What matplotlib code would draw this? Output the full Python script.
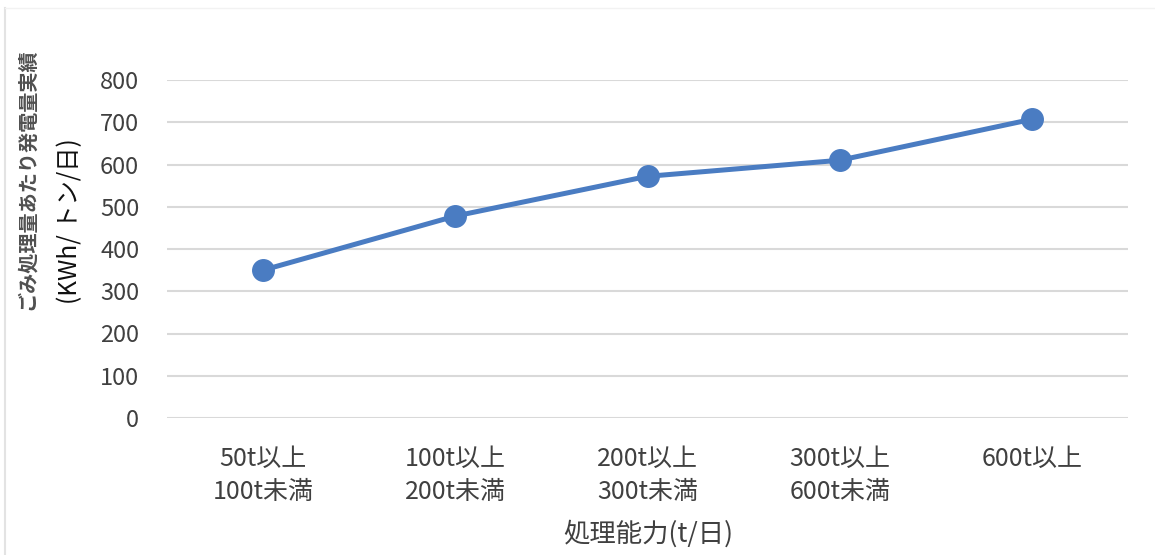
import matplotlib
matplotlib.use("Agg")
import matplotlib.pyplot as plt
from matplotlib.lines import Line2D

plt.rcParams['font.family'] = ['Noto Sans CJK JP', 'DejaVu Sans']

categories = ["50t以上\n100t未満", "100t以上\n200t未満", "200t以上\n300t未満",
              "300t以上\n600t未満", "600t以上"]
values = [350, 478, 572, 610, 707]
yticks = [0, 100, 200, 300, 400, 500, 600, 700, 800]

W, H = 1155, 555
fig = plt.figure(figsize=(W / 100, H / 100), dpi=100)
ax = fig.add_axes([167 / W, 1 - 418 / H, (1128 - 167) / W, (418 - 80) / H])

x = list(range(len(categories)))
ax.plot(x, values, color="#4A7CC2", lw=3.6, marker="o", ms=15.5,
        solid_capstyle="round", zorder=3)

ax.set_xlim(-0.5, len(categories) - 0.5)
ax.set_ylim(0, 800)
ax.set_yticks(yticks)
ax.grid(axis="y", color="#D9D9D9", lw=1.5)
ax.set_axisbelow(True)
for s in ax.spines.values():
    s.set_visible(False)
ax.set_xticks(x)
ax.set_xticklabels(categories, linespacing=1.35)
ax.tick_params(axis="y", length=0, labelsize=17, labelcolor="#404040", pad=20)
ax.tick_params(axis="x", length=0, labelsize=18, labelcolor="#404040", pad=20)

fig.text(648 / W, 1 - 534 / H, "処理能力(t/日)", ha="center", va="center",
         fontsize=19, color="#404040")
fig.text(26 / W, 1 - 310 / H, "ごみ処理量あたり発電量実績", rotation=90,
         ha="center", va="bottom", fontsize=14.5, fontweight="bold", color="#505050")
fig.text(70 / W, 1 - 304 / H, "(KWh/ トン/日)", rotation=90,
         ha="center", va="bottom", fontsize=17.5, color="#101010")

# faint frame of the chart area
fig.add_artist(Line2D([5 / W, 5 / W], [0, 1 - 8 / H], color="#E3E3E3", lw=1.5))
fig.add_artist(Line2D([5 / W, 1], [1 - 8 / H, 1 - 8 / H], color="#F2F2F2", lw=1))

fig.savefig("out.png", dpi=100, facecolor="white")
